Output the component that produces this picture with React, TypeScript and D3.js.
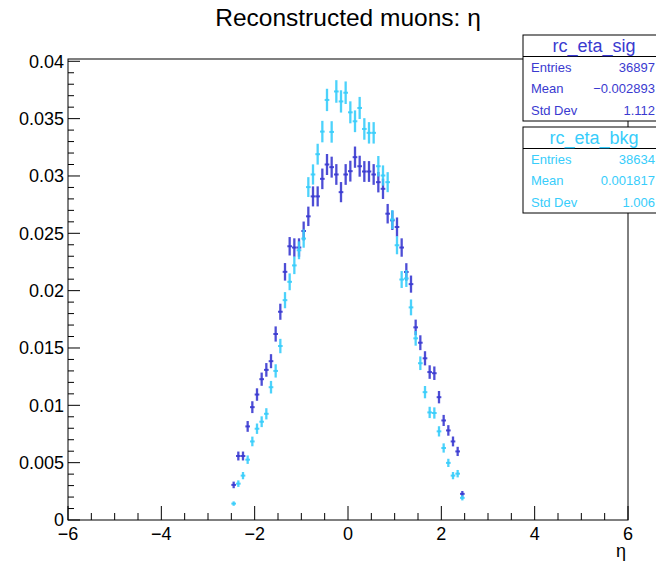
import React from "react";
import * as d3 from "d3";

// Canvas and frame geometry
const WIDTH = 656;
const HEIGHT = 562;
const FRAME = { left: 68, right: 628, top: 59, bottom: 520 };

const TITLE = "Reconstructed muons: η";
const X_TITLE = "η";
const X_DOMAIN: [number, number] = [-6, 6];
const Y_DOMAIN: [number, number] = [0, 0.0402];

// Histogram binning: 50 bins of width 0.1 covering |η| < 2.5
const BIN_LOW = -2.5;
const BIN_WIDTH = 0.1;

// Normalised bin contents, signal sample
const sigValues = [
  0.00306, 0.00558, 0.00558, 0.00816, 0.00984, 0.01094, 0.01228, 0.01309, 0.01385, 0.01622,
  0.01816, 0.02164, 0.02387, 0.02376, 0.02376, 0.0252, 0.02648, 0.02822, 0.02822, 0.02975,
  0.031, 0.03077, 0.03013, 0.02859, 0.03013, 0.03042, 0.03164, 0.03085, 0.03039, 0.03039,
  0.03013, 0.02946, 0.02888, 0.02671, 0.02613, 0.02555, 0.02376, 0.02163, 0.02057, 0.0168,
  0.01546, 0.0141, 0.0129, 0.0128, 0.01071, 0.00868, 0.00781, 0.00685, 0.00598, 0.00228,
];

// Normalised bin contents, background sample
const bkgValues = [
  0.00143, 0.00317, 0.00387, 0.00526, 0.00685, 0.00796, 0.00857, 0.00926, 0.01158, 0.013,
  0.01517, 0.01917, 0.02077, 0.0222, 0.02352, 0.02454, 0.02903, 0.03013, 0.0319, 0.03387,
  0.03663, 0.03384, 0.03737, 0.0365, 0.03726, 0.03555, 0.03477, 0.03593, 0.0341, 0.03376,
  0.03376, 0.03085, 0.03004, 0.02946, 0.0262, 0.02396, 0.02097, 0.02106, 0.01854, 0.01584,
  0.01367, 0.01115, 0.00938, 0.00933, 0.00773, 0.00628, 0.00498, 0.00387, 0.00404, 0.00193,
];

const SIG_ENTRIES = 36897;
const BKG_ENTRIES = 38634;

// Statistics boxes
const statLabels = ["Entries", "Mean", "Std Dev"];
const sigStatValues = ["36897", "\u22120.002893", "1.112"];
const bkgStatValues = ["38634", "0.001817", "1.006"];

const SIG_COLOR = "#3a3ad0";
const BKG_COLOR = "#38cdfb";
const FONT = "'Liberation Sans', Arial, Helvetica, sans-serif";

const xMajor = d3.range(-6, 6.001, 2);
const xMinor = d3.range(-6, 6.001, 0.5).filter((v) => Math.abs(v / 2 - Math.round(v / 2)) > 1e-6);
const yMajor = d3.range(0, 0.04001, 0.005);
const yMinor = d3.range(0, 0.04001, 0.001).filter((v) => Math.abs(v / 0.005 - Math.round(v / 0.005)) > 1e-6);

const fmtX = (v: number) => (v < 0 ? "\u2212" + Math.abs(v) : String(v));
const fmtY = (v: number) => (Math.abs(v) < 1e-9 ? "0" : String(+v.toFixed(3)));

type Series = { values: number[]; entries: number; color: string };

function ErrorPoints({ series, x, y }: { series: Series; x: d3.ScaleLinear<number, number>; y: d3.ScaleLinear<number, number> }) {
  return (
    <g stroke={series.color} strokeOpacity={0.9}>
      {series.values.map((v, i) => {
        const lo = BIN_LOW + i * BIN_WIDTH;
        const c = lo + BIN_WIDTH / 2;
        const err = Math.sqrt(v / series.entries);
        return (
          <g key={i}>
            <line x1={x(c)} x2={x(c)} y1={y(v - err)} y2={y(v + err)} strokeWidth={2.3} />
            <line x1={x(lo)} x2={x(lo + BIN_WIDTH)} y1={y(v)} y2={y(v)} strokeWidth={2} />
          </g>
        );
      })}
    </g>
  );
}

function StatBox({ top, title, values, color }: { top: number; title: string; values: string[]; color: string }) {
  const left = 523;
  const right = 665;
  const rowH = 21.5;
  const h = rowH * 4;
  return (
    <g>
      <rect x={left} y={top} width={right - left} height={h} fill="#fff" stroke="#000" strokeWidth={1} />
      <line x1={left} x2={right} y1={top + rowH} y2={top + rowH} stroke="#000" strokeWidth={1} />
      <text x={(left + right) / 2} y={top + rowH / 2} dy="0.35em" textAnchor="middle" fontSize={18} fill={color} fontFamily={FONT}>
        {title}
      </text>
      {statLabels.map((lab, i) => (
        <g key={lab}>
          <text x={left + 8} y={top + rowH * (i + 1.5)} dy="0.35em" fontSize={13} fill={color} fontFamily={FONT}>
            {lab}
          </text>
          <text x={655} y={top + rowH * (i + 1.5)} dy="0.35em" textAnchor="end" fontSize={13} fill={color} fontFamily={FONT}>
            {values[i]}
          </text>
        </g>
      ))}
    </g>
  );
}

export default function App() {
  const x = d3.scaleLinear().domain(X_DOMAIN).range([FRAME.left, FRAME.right]);
  const y = d3.scaleLinear().domain(Y_DOMAIN).range([FRAME.bottom, FRAME.top]);
  const xMajLen = 14;
  const yMajLen = 12;

  return (
    <svg
      width={WIDTH}
      height={HEIGHT}
      viewBox={`0 0 ${WIDTH} ${HEIGHT}`}
      style={{ position: "absolute", left: 0, top: 0, background: "#fff" }}
    >
      <rect width={WIDTH} height={HEIGHT} fill="#fff" />
      {/* frame */}
      <rect
        x={FRAME.left}
        y={FRAME.top}
        width={FRAME.right - FRAME.left}
        height={FRAME.bottom - FRAME.top}
        fill="none"
        stroke="#000"
        strokeWidth={1}
      />
      {/* axis ticks */}
      <g stroke="#000" strokeWidth={1}>
        {xMajor.map((v) => (
          <line key={"xM" + v} x1={x(v)} x2={x(v)} y1={FRAME.bottom} y2={FRAME.bottom - xMajLen} />
        ))}
        {xMinor.map((v) => (
          <line key={"xm" + v} x1={x(v)} x2={x(v)} y1={FRAME.bottom} y2={FRAME.bottom - xMajLen / 2} />
        ))}
        {yMajor.map((v) => (
          <line key={"yM" + v} x1={FRAME.left} x2={FRAME.left + yMajLen} y1={y(v)} y2={y(v)} />
        ))}
        {yMinor.map((v) => (
          <line key={"ym" + v} x1={FRAME.left} x2={FRAME.left + yMajLen / 2} y1={y(v)} y2={y(v)} />
        ))}
      </g>
      {/* tick labels */}
      <g fontFamily={FONT} fontSize={18} fill="#000">
        {xMajor.map((v) => (
          <text key={"xl" + v} x={x(v)} y={FRAME.bottom + 20} textAnchor="middle">
            {fmtX(v)}
          </text>
        ))}
        {yMajor.map((v) => (
          <text key={"yl" + v} x={FRAME.left - 4} y={y(v)} dy="0.35em" textAnchor="end">
            {fmtY(v)}
          </text>
        ))}
      </g>
      <text x={FRAME.right - 2} y={557} textAnchor="end" fontFamily={FONT} fontSize={18}>
        {X_TITLE}
      </text>
      <text x={348} y={26} textAnchor="middle" fontFamily={FONT} fontSize={24.5}>
        {TITLE}
      </text>
      {/* data */}
      <ErrorPoints series={{ values: sigValues, entries: SIG_ENTRIES, color: SIG_COLOR }} x={x} y={y} />
      <ErrorPoints series={{ values: bkgValues, entries: BKG_ENTRIES, color: BKG_COLOR }} x={x} y={y} />
      {/* stat boxes */}
      <StatBox top={35} title="rc_eta_sig" values={sigStatValues} color={SIG_COLOR} />
      <StatBox top={127} title="rc_eta_bkg" values={bkgStatValues} color={BKG_COLOR} />
    </svg>
  );
}
